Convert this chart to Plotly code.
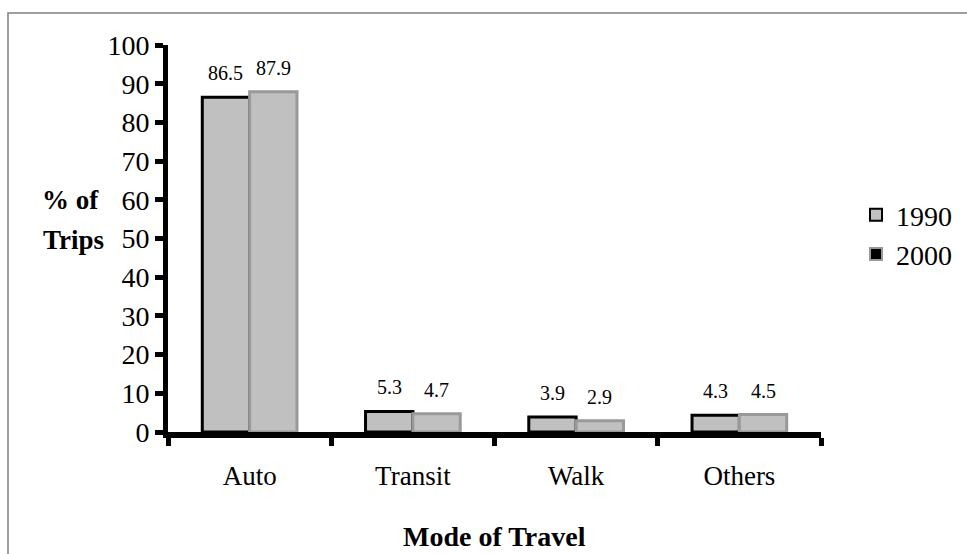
import plotly.graph_objects as go

categories = ["Auto", "Transit", "Walk", "Others"]
years = ["1990", "2000"]
values_1990 = [86.5, 5.3, 3.9, 4.3]
values_2000 = [87.9, 4.7, 2.9, 4.5]
y_ticks = list(range(0, 101, 10))

FONT = "Liberation Serif, Times New Roman, serif"
L, R, T, B = 168, 146, 45, 122
W, H = 967, 554
PW, PH = W - L - R, H - T - B


def px(x):
    return (x - L) / PW


def py(y):
    return (H - B - y) / PH


fig = go.Figure()

fig.add_trace(go.Bar(x=categories, y=values_1990, name=years[0], showlegend=False,
                     marker=dict(color="#C0C0C0", line=dict(color="#000000", width=3))))
fig.add_trace(go.Bar(x=categories, y=values_2000, name=years[1], showlegend=False,
                     marker=dict(color="#C0C0C0", line=dict(color="#999999", width=3))))

# legend-only entries (symbols as drawn in the reference)
fig.add_trace(go.Scatter(x=[None], y=[None], name=years[0], mode="markers",
                         marker=dict(symbol="square", size=13, color="#C0C0C0",
                                     line=dict(color="#000000", width=2.5))))
fig.add_trace(go.Scatter(x=[None], y=[None], name=years[1], mode="markers",
                         marker=dict(symbol="square", size=13, color="#000000",
                                     line=dict(color="#999999", width=2.5))))

group_w = 1 - 0.42
bar_off = group_w / 4 * PW / len(categories)
for vals, sgn in [(values_1990, -1), (values_2000, 1)]:
    for c, v in zip(categories, vals):
        fig.add_annotation(x=c, y=v, text=f"{v:.1f}", showarrow=False, yanchor="bottom",
                           yshift=11, xshift=sgn * bar_off,
                           font=dict(family=FONT, size=20, color="black"))

fig.add_annotation(xref="paper", yref="paper", x=px(101), y=py(200), text="<b>% of</b>",
                   showarrow=False, xanchor="right", yanchor="middle",
                   font=dict(family=FONT, size=27, color="black"))
fig.add_annotation(xref="paper", yref="paper", x=px(106), y=py(240), text="<b>Trips</b>",
                   showarrow=False, xanchor="right", yanchor="middle",
                   font=dict(family=FONT, size=27, color="black"))
fig.add_annotation(xref="paper", yref="paper", x=px(495), y=py(536),
                   text="<b>Mode of Travel</b>", showarrow=False, xanchor="center", yanchor="middle",
                   font=dict(family=FONT, size=28, color="black"))

fig.add_shape(type="rect", xref="paper", yref="paper",
              x0=px(8), x1=px(975), y0=py(570), y1=py(13),
              line=dict(color="#808080", width=1.5), layer="below")

fig.update_layout(
    width=W, height=H,
    margin=dict(l=L, r=R, t=T, b=B, autoexpand=False),
    paper_bgcolor="white", plot_bgcolor="white",
    barmode="group", bargap=0.42, bargroupgap=0,
    font=dict(family=FONT, color="black"),
    legend=dict(x=px(856), y=py(190), xanchor="left", yanchor="top",
                font=dict(family=FONT, size=28, color="black"), tracegroupgap=0,
                itemwidth=30, itemsizing="constant"),
)
fig.update_xaxes(showline=True, linecolor="black", linewidth=6, ticks="outside",
                 tickson="boundaries", ticklen=8, tickwidth=5, tickcolor="black",
                 tickfont=dict(family=FONT, size=27, color="black"),
                 ticklabelstandoff=15, showgrid=False, zeroline=False)
fig.update_yaxes(range=[0, 100], tickvals=y_ticks, showline=True, linecolor="black", linewidth=5,
                 ticks="outside", ticklen=8, tickwidth=5, tickcolor="black",
                 tickfont=dict(family=FONT, size=28, color="black"),
                 showgrid=False, zeroline=False)

fig.write_html("out.html", config={"displayModeBar": False},
               post_script="document.body.style.margin='0';")
